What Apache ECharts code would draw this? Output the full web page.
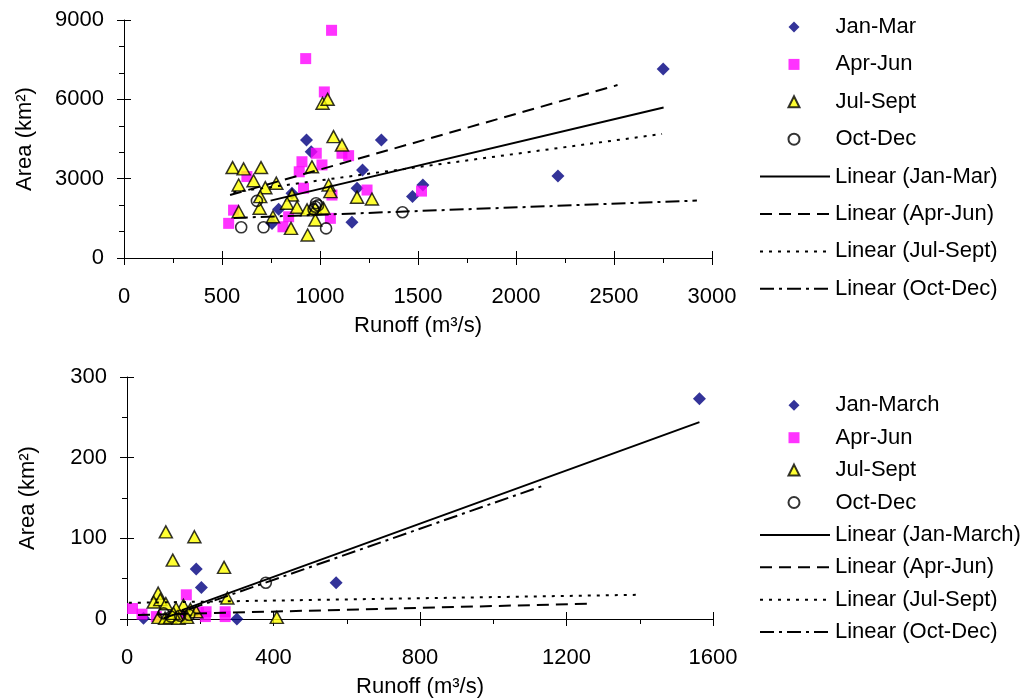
<!DOCTYPE html>
<html>
<head>
<meta charset="utf-8">
<script src="https://cdn.jsdelivr.net/npm/echarts@6/dist/echarts.min.js"></script>
<style>
  html, body { margin: 0; padding: 0; background: #fff; }
  #chart { width: 1029px; height: 700px; }
</style>
</head>
<body>
<div id="chart"></div>
<script>
// Seasonal runoff (m³/s) against area (km²) for two sites, with linear trendlines.

const upperSeasons = ['Jan-Mar', 'Apr-Jun', 'Jul-Sept', 'Oct-Dec'];
const lowerSeasons = ['Jan-March', 'Apr-Jun', 'Jul-Sept', 'Oct-Dec'];

// Upper panel points: [runoff, area]
const upperJanMar = [[931,4460],[955,4020],[1313,4460],[1217,3330],[1525,2760],[1472,2330],[1163,1350],
  [1189,2640],[789,1840],[755,1300],[857,2450],[2214,3100],[2751,7150]];
const upperAprJun = [[1059,8610],[927,7540],[1022,6280],[981,3960],[908,3640],[1010,3520],[1112,3960],
  [1146,3870],[894,3260],[916,2640],[1240,2570],[1518,2530],[1061,2380],[559,1810],[534,1310],
  [840,1560],[811,1180],[1053,1500],[627,3080]];
const upperJulSep = [[1069,4590],[1112,4270],[554,3420],[610,3370],[699,3420],[959,3450],[585,2760],
  [661,2920],[777,2830],[721,2660],[1044,2760],[1053,2510],[695,2320],[1189,2300],[1265,2230],
  [857,2380],[832,2070],[883,1920],[934,1820],[976,1880],[1018,1880],[585,1750],[692,1880],
  [760,1560],[976,1440],[852,1120],[937,870],[1013,5850],[1039,6000]];
const upperOctDec = [[678,2160],[598,1160],[712,1160],[1031,1120],[980,2070],[976,1940],[967,1840],
  [1421,1730],[990,1990]];

// Upper panel trendline end points
const upperTrendJanMar = [[748,2170],[2753,5690]];
const upperTrendAprJun = [[541,2380],[2518,6540]];
const upperTrendJulSep = [[558,2490],[2745,4690]];
const upperTrendOctDec = [[560,1515],[2923,2170]];

// Lower panel points: [runoff, area]
const lowerJanMar = [[1563,273],[571,45],[189,62],[203,39],[300,0],[45,1],[160,3]];
const lowerAprJun = [[15,13],[41,6],[162,30],[268,9],[268,3],[216,9],[214,3],[80,3],[150,5],[195,8]];
const lowerJulSep = [[106,108],[184,102],[125,73],[265,64],[274,26],[409,2],[85,32],[73,21],[91,24],
  [106,19],[154,17],[134,13],[173,12],[189,9],[86,2],[104,1],[118,2],[141,1],[164,2],[127,7]];
const lowerOctDec = [[379,45],[100,7],[120,3],[145,4],[170,5]];

// Lower panel trendline end points
const lowerTrendJanMar = [[150,11],[1563,244]];
const lowerTrendAprJun = [[30,5],[1260,19]];
const lowerTrendJulSep = [[5,20],[1395,30]];
const lowerTrendOctDec = [[100,1],[1141,166]];

// Axis ticks
const upperXTicks = [0, 500, 1000, 1500, 2000, 2500, 3000];
const upperYTicks = [0, 3000, 6000, 9000];
const lowerXTicks = [0, 400, 800, 1200, 1600];
const lowerYTicks = [0, 100, 200, 300];

const FONT = 'Liberation Sans, Arial, sans-serif';

const markerStyles = [
  { symbol: 'diamond', symbolSize: 13, itemStyle: { color: '#000080' } },
  { symbol: 'rect', symbolSize: 11, itemStyle: { color: '#ff00ff' } },
  { symbol: 'triangle', symbolSize: [13, 12], itemStyle: { color: '#ffff00', borderColor: '#000', borderWidth: 1.5 } },
  { symbol: 'circle', symbolSize: 11, itemStyle: { color: 'rgba(0,0,0,0)', borderColor: '#000', borderWidth: 1.6 } }
];
const trendDash = ['solid', [12, 7], [3, 6], [14, 5, 3, 5]];

function scatterSeries(name, data, k, axisIdx) {
  return Object.assign({
    type: 'scatter', name, data,
    xAxisIndex: axisIdx, yAxisIndex: axisIdx,
    z: 2
  }, markerStyles[k]);
}
function trendSeries(name, data, k, axisIdx) {
  return {
    type: 'line', name, data,
    xAxisIndex: axisIdx, yAxisIndex: axisIdx,
    symbol: 'none', z: 3,
    lineStyle: { color: '#000', width: 2, type: trendDash[k] },
    itemStyle: { color: 'rgba(0,0,0,0)', borderWidth: 0 }
  };
}

function axisLabelStyle(margin) {
  return { fontSize: 22, fontFamily: FONT, color: '#000', margin, formatter: v => String(v) };
}
function valueAxis(ticks, gridIndex, minorSplit, extra) {
  return Object.assign({
    type: 'value', gridIndex,
    min: ticks[0], max: ticks[ticks.length - 1], interval: ticks[1] - ticks[0],
    axisLine: { show: true, onZero: false, lineStyle: { color: '#000', width: 1 } },
    axisTick: { show: true, length: 7, lineStyle: { color: '#000' } },
    minorTick: { show: true, splitNumber: minorSplit, length: 5, lineStyle: { color: '#000' } },
    splitLine: { show: false },
    axisLabel: axisLabelStyle(20),
    nameTextStyle: { fontSize: 22, fontFamily: FONT, color: '#000' }
  }, extra || {});
}
// Inner half of the major ticks, so they cross the axis line
function innerTickAxis(ticks, gridIndex, position) {
  return {
    type: 'value', gridIndex, position,
    min: ticks[0], max: ticks[ticks.length - 1], interval: ticks[1] - ticks[0],
    axisLine: { show: false },
    axisTick: { show: true, inside: true, length: 7, lineStyle: { color: '#000' } },
    axisLabel: { show: false },
    splitLine: { show: false }
  };
}

const upperSeriesData = [upperJanMar, upperAprJun, upperJulSep, upperOctDec];
const upperTrendData = [upperTrendJanMar, upperTrendAprJun, upperTrendJulSep, upperTrendOctDec];
const lowerSeriesData = [lowerJanMar, lowerAprJun, lowerJulSep, lowerOctDec];
const lowerTrendData = [lowerTrendJanMar, lowerTrendAprJun, lowerTrendJulSep, lowerTrendOctDec];

const series = [];
upperSeasons.forEach((s, k) => series.push(scatterSeries(s, upperSeriesData[k], k, 0)));
upperSeasons.forEach((s, k) => series.push(trendSeries('Linear (' + s + ')', upperTrendData[k], k, 0)));
lowerSeasons.forEach((s, k) => series.push(scatterSeries(s, lowerSeriesData[k], k, 1)));
lowerSeasons.forEach((s, k) => series.push(trendSeries('Linear (' + s + ')', lowerTrendData[k], k, 1)));

const legendText = { fontSize: 22, fontFamily: FONT, color: '#000', lineHeight: 24 };
// Marker keys: small square icon box, label pushed right to line up with the trendline keys
function markerLegend(names, top, gap) {
  return {
    orient: 'vertical', left: 787.5, top, padding: 0, itemGap: gap,
    itemWidth: 11, itemHeight: 11, selectedMode: false,
    textStyle: Object.assign({ padding: [0, 0, 0, 31] }, legendText),
    data: names
  };
}
function lineLegend(names, top, gap) {
  return {
    orient: 'vertical', left: 759, top, padding: 0, itemGap: gap,
    itemWidth: 70, itemHeight: 10, selectedMode: false,
    textStyle: legendText,
    data: names.map(s => 'Linear (' + s + ')')
  };
}

const option = {
  animation: false,
  backgroundColor: '#fff',
  grid: [
    { left: 124, top: 20, width: 588, height: 238 },
    { left: 127, top: 377, width: 586, height: 242 }
  ],
  xAxis: [
    valueAxis(upperXTicks, 0, 2, { name: 'Runoff (m³/s)', nameLocation: 'middle', nameGap: 57, axisLabel: axisLabelStyle(28) }),
    valueAxis(lowerXTicks, 1, 2, { name: 'Runoff (m³/s)', nameLocation: 'middle', nameGap: 57, axisLabel: axisLabelStyle(28) }),
    innerTickAxis(upperXTicks, 0, 'bottom'),
    innerTickAxis(lowerXTicks, 1, 'bottom')
  ],
  yAxis: [
    valueAxis(upperYTicks, 0, 3, { name: 'Area (km²)', nameLocation: 'middle', nameGap: 88 }),
    valueAxis(lowerYTicks, 1, 2, { name: 'Area (km²)', nameLocation: 'middle', nameGap: 88 }),
    innerTickAxis(upperYTicks, 0, 'left'),
    innerTickAxis(lowerYTicks, 1, 'left')
  ],
  legend: [
    markerLegend(upperSeasons, 15, 13.4),
    lineLegend(upperSeasons, 164.6, 13.4),
    markerLegend(lowerSeasons, 393.3, 8.4),
    lineLegend(lowerSeasons, 522.9, 8.4)
  ],
  series
};

const chart = echarts.init(document.getElementById('chart'), null, { renderer: 'canvas' });
chart.setOption(option);
</script>
</body>
</html>
